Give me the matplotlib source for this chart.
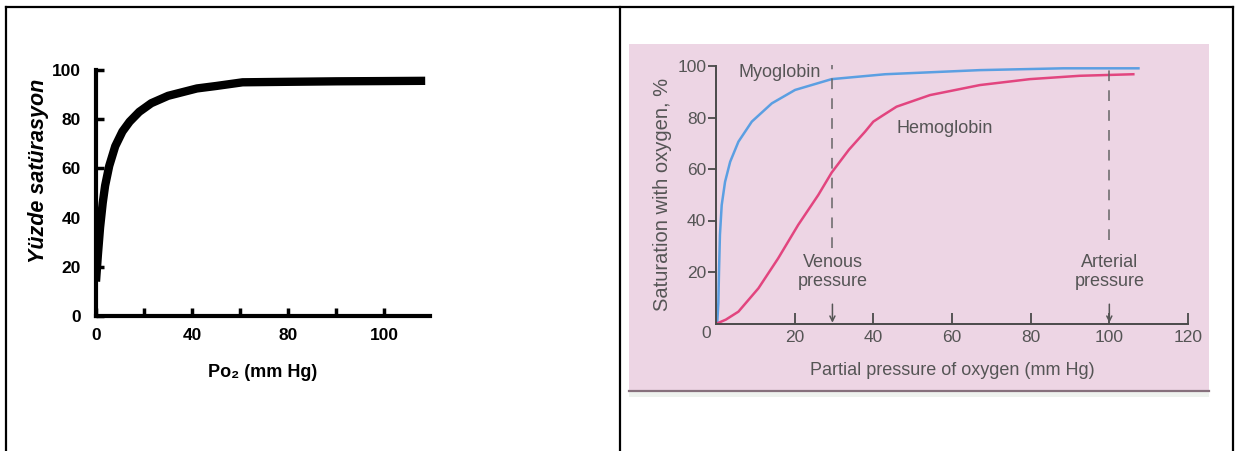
import matplotlib
matplotlib.use('Agg')
import matplotlib.pyplot as plt
from matplotlib.lines import Line2D
from matplotlib.patches import Rectangle

W, H = 1237, 451

# left panel: saturation curve
left_po2 = [0, 0.8, 1.7, 2.8, 3.8, 5.5, 8, 11, 14, 18, 23, 30, 36, 42, 50, 61, 80, 100, 120, 137]
left_sat = [14, 25, 36, 46, 53, 61, 69, 75, 79, 83, 86.5, 89.5, 91, 92.5, 93.5, 95, 95.2, 95.4, 95.5, 95.6]
left_xticks = [0, 20, 40, 60, 80, 100, 120]
left_xlabels = ['0', '', '40', '', '80', '', '100']
left_yticks = [0, 20, 40, 60, 80, 100]

# right panel: myoglobin vs hemoglobin
myo_po2 = [0.3, 0.6, 0.76, 1.0, 1.45, 2.3, 3.6, 5.7, 9.1, 14.2, 20.1, 29.4, 43, 67.1, 88.3, 107.4]
myo_sat = [0, 8, 20, 34.4, 46, 55, 62.8, 70.6, 78.4, 85.5, 90.7, 94.9, 96.8, 98.4, 99.1, 99.1]
hb_po2 = [0.2, 2.5, 5.7, 10.8, 15.8, 20.9, 26, 29.4, 33.8, 37.9, 40, 42.1, 45.9, 54.4, 67.1, 79.8, 92.5, 106.1]
hb_sat = [0, 1.5, 4.6, 13.7, 25.3, 38.3, 49.9, 58.6, 67.5, 74.5, 78.4, 80.5, 84.2, 88.7, 92.6, 94.9, 96.2, 96.8]
venous_po2 = 29.6
arterial_po2 = 100
right_xticks = [20, 40, 60, 80, 100, 120]
right_yticks = [20, 40, 60, 80, 100]

fig = plt.figure(figsize=(W / 100, H / 100), dpi=100)

def fx(px):
    return px / W

def fy(py):
    return 1 - py / H

# table borders
for x in [5.5, 620, 1233]:
    fig.add_artist(Line2D([fx(x), fx(x)], [0, fy(6.5)], color='black', lw=1.6))
fig.add_artist(Line2D([fx(5.5), fx(1233)], [fy(6.5), fy(6.5)], color='black', lw=1.6))

# pink picture background
fig.add_artist(Rectangle((fx(629), fy(391)), fx(580), (391 - 44) / H,
                         transform=fig.transFigure, facecolor='#edd5e4', edgecolor='none', zorder=0))
fig.add_artist(Rectangle((fx(629), fy(397)), fx(580), 6 / H,
                         transform=fig.transFigure, facecolor='#eef2ee', edgecolor='none', zorder=0))
fig.add_artist(Line2D([fx(629), fx(1209)], [fy(391), fy(391)], color='#86707c', lw=1.6))

# ---- left chart ----
bold = dict(family=['Liberation Sans', 'DejaVu Sans'], weight='bold')
axL = fig.add_axes([fx(96), fy(316), fx(334), 246 / H])
axL.set_facecolor('none')
axL.plot(left_po2, left_sat, color='black', lw=6, solid_capstyle='butt')
axL.set_xlim(0, 139)
axL.set_ylim(0, 100)
for s in ['top', 'right']:
    axL.spines[s].set_visible(False)
for s in ['left', 'bottom']:
    axL.spines[s].set_linewidth(3)
axL.set_xticks(left_xticks)
axL.set_xticklabels(left_xlabels, fontsize=12.5, **bold)
axL.set_yticks(left_yticks)
axL.set_yticklabels([str(v) for v in left_yticks], fontsize=12.5, **bold)
axL.tick_params(axis='x', direction='in', length=6, width=2.5, pad=9)
axL.tick_params(axis='y', direction='in', length=6, width=2.5, pad=11)
axL.set_xlabel('Po\u2082 (mm Hg)', fontsize=13, labelpad=15, **bold)
axL.set_ylabel('Yüzde satürasyon', fontsize=15.5, style='italic',
               family=['Liberation Sans', 'DejaVu Sans'], weight='bold')
axL.yaxis.set_label_coords(-0.14, 0.59)

# ---- right chart ----
gray = '#555555'
reg = dict(family=['Liberation Sans', 'DejaVu Sans'], color=gray)
axR = fig.add_axes([fx(716), fy(323.5), fx(472), 257.5 / H])
axR.set_facecolor('none')
axR.plot(myo_po2, myo_sat, color='#5b9fe2', lw=1.8)
axR.plot(hb_po2, hb_sat, color='#e2457f', lw=1.8)
axR.set_xlim(0, 120)
axR.set_ylim(0, 100)
for s in ['top', 'right']:
    axR.spines[s].set_visible(False)
for s in ['left', 'bottom']:
    axR.spines[s].set_color('#4a4a4a')
    axR.spines[s].set_linewidth(1.4)
axR.set_xticks(right_xticks)
axR.set_xticklabels([str(v) for v in right_xticks], fontsize=12.5, **reg)
axR.set_yticks(right_yticks)
axR.set_yticklabels([str(v) for v in right_yticks], fontsize=12.5, **reg)
axR.tick_params(axis='x', direction='in', length=8, width=1.3, color='#4a4a4a', pad=5)
axR.tick_params(axis='y', direction='out', length=6, width=1.3, color='#4a4a4a', pad=1)
axR.text(-2.5, -4, '0', ha='center', va='center', fontsize=12.5, **reg)
axR.set_xlabel('Partial pressure of oxygen (mm Hg)', fontsize=13, labelpad=12, **reg)
axR.set_ylabel('Saturation with oxygen, %', fontsize=14.5, labelpad=4, **reg)

# reference pressures
for xp, top_of_text in [(venous_po2, 29.5), (arterial_po2, 32.4)]:
    axR.plot([xp, xp], [top_of_text, 100.5], color='#666666', lw=1.1,
             dashes=(7, 6), clip_on=False)
    axR.annotate('', xy=(xp, 0.3), xytext=(xp, 7.5),
                 arrowprops=dict(arrowstyle='->', color='#555555', lw=1.1,
                                 mutation_scale=9, shrinkA=0, shrinkB=0))
axR.text(venous_po2, 20, 'Venous\npressure', ha='center', va='center',
         fontsize=13, linespacing=1.15, **reg)
axR.text(arterial_po2, 20, 'Arterial\npressure', ha='center', va='center',
         fontsize=13, linespacing=1.15, **reg)
axR.text(5.6, 97.3, 'Myoglobin', ha='left', va='center', fontsize=13, **reg)
axR.text(45.8, 75.9, 'Hemoglobin', ha='left', va='center', fontsize=13, **reg)

fig.savefig('out.png', dpi=100)
